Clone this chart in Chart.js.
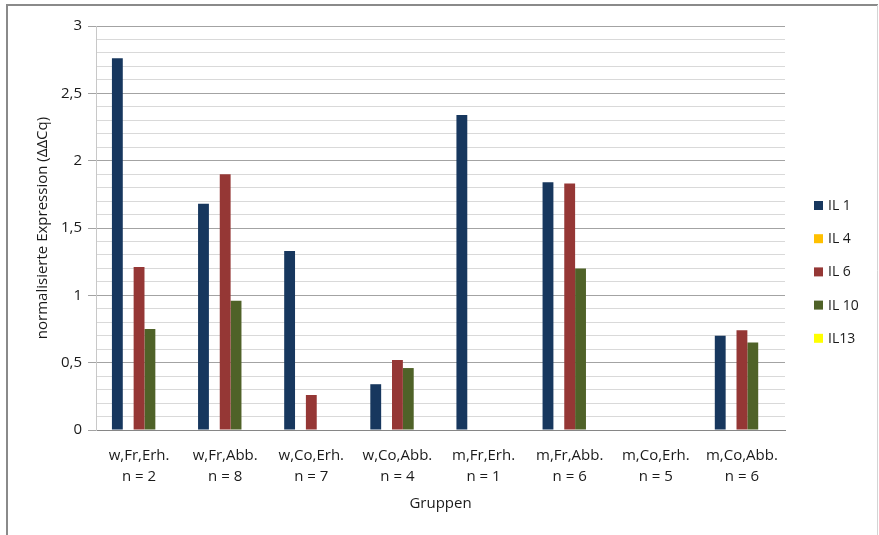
<!DOCTYPE html>
<html>
<head>
<meta charset="utf-8">
<script src="https://cdn.jsdelivr.net/npm/chart.js@4/dist/chart.umd.min.js"></script>
<style>
  html, body { margin: 0; padding: 0; background: #fff; }
  #wrap { position: absolute; left: 0; top: 0; width: 879px; height: 535px; }
</style>
</head>
<body>
<div id="wrap"><canvas id="c" width="879" height="535"></canvas></div>
<script>
// Groups (sex, type, condition) with sample sizes
const groups = [
  ['w,Fr,Erh.', 'n = 2'],
  ['w,Fr,Abb.', 'n = 8'],
  ['w,Co,Erh.', 'n = 7'],
  ['w,Co,Abb.', 'n = 4'],
  ['m,Fr,Erh.', 'n = 1'],
  ['m,Fr,Abb.', 'n = 6'],
  ['m,Co,Erh.', 'n = 5'],
  ['m,Co,Abb.', 'n = 6']
];

// Normalised expression (ΔΔCq) per interleukin
const il1  = [2.76, 1.68, 1.33, 0.34, 2.34, 1.84, 0, 0.70];
const il4  = [0, 0, 0, 0, 0, 0, 0, 0];
const il6  = [1.21, 1.90, 0.26, 0.52, 0, 1.83, 0, 0.74];
const il10 = [0.75, 0.96, 0, 0.46, 0, 1.20, 0, 0.65];
const il13 = [0, 0, 0, 0, 0, 0, 0, 0];

const seriesNames = ['IL 1', 'IL 4', 'IL 6', 'IL 10', 'IL13'];
const seriesColors = ['#17375E', '#FFC000', '#953735', '#4F6228', '#FFFF00'];

const FONT = "'Open Sans', 'Liberation Sans', sans-serif";
const TEXT = '#1a1a1a';

// Outer frame of the figure
const framePlugin = {
  id: 'frame',
  beforeDraw(chart) {
    const ctx = chart.ctx;
    ctx.save();
    ctx.fillStyle = '#ffffff';
    ctx.fillRect(0, 0, chart.width, chart.height);
    ctx.strokeStyle = '#8a8a8a';
    ctx.lineWidth = 2;
    ctx.beginPath();
    ctx.moveTo(7, 540);
    ctx.lineTo(7, 5);
    ctx.lineTo(878, 5);
    ctx.stroke();
    ctx.strokeStyle = '#d4d4d4';
    ctx.lineWidth = 1;
    ctx.beginPath();
    ctx.moveTo(877.5, 5);
    ctx.lineTo(877.5, 540);
    ctx.stroke();
    ctx.restore();
  }
};

// Legend drawn to the right of the plot area, one entry per dataset
const sideLegend = {
  id: 'sideLegend',
  afterDraw(chart) {
    const ctx = chart.ctx;
    const ds = chart.data.datasets;
    const x0 = 814, yStart = 205.5, step = 33.2;
    ctx.save();
    ctx.font = '14px ' + FONT;
    ctx.textBaseline = 'middle';
    ds.forEach((d, i) => {
      const y = yStart + i * step;
      ctx.fillStyle = d.backgroundColor;
      ctx.fillRect(x0, y - 4.5, 9, 9);
      ctx.fillStyle = TEXT;
      ctx.fillText(d.label, x0 + 14, y + 0.5);
    });
    ctx.restore();
  }
};

const datasets = [il1, il4, il6, il10, il13].map((vals, i) => ({
  label: seriesNames[i],
  data: vals,
  backgroundColor: seriesColors[i],
  borderWidth: 0,
  categoryPercentage: 0.63,
  barPercentage: 1.0
}));

new Chart(document.getElementById('c'), {
  type: 'bar',
  data: { labels: groups, datasets },
  plugins: [framePlugin, sideLegend],
  options: {
    responsive: false,
    animation: false,
    layout: { padding: { left: 0, right: 94, top: 26, bottom: 0 } },
    plugins: {
      legend: { display: false },
      tooltip: { enabled: false }
    },
    scales: {
      x: {
        grid: { display: false, drawTicks: false },
        border: { display: true, color: '#868686', width: 1 },
        ticks: {
          color: TEXT,
          font: { family: FONT, size: 15, lineHeight: 1.4 },
          padding: 15,
          maxRotation: 0,
          autoSkip: false
        },
        title: {
          display: true,
          text: 'Gruppen',
          color: TEXT,
          font: { family: FONT, size: 15 },
          padding: { top: 0, bottom: 22 }
        },
        afterFit(scale) { scale.height = 105; }
      },
      y: {
        min: 0,
        max: 3,
        ticks: {
          stepSize: 0.1,
          autoSkip: false,
          color: TEXT,
          font: { family: FONT, size: 15 },
          padding: 6,
          callback(value) {
            const v = Math.round(value * 10);
            if (v % 5 !== 0) return '';
            return (v / 10).toString().replace('.', ',');
          }
        },
        grid: {
          drawTicks: true,
          tickLength: 8,
          color(ctx) {
            const v = Math.round(ctx.tick.value * 10);
            return v % 5 === 0 ? '#a3a3a3' : '#d9d9d9';
          },
          tickColor(ctx) {
            const v = Math.round(ctx.tick.value * 10);
            return v % 5 === 0 ? '#a3a3a3' : 'rgba(0,0,0,0)';
          },
          lineWidth: 1
        },
        border: { display: true, color: '#c8c8c8' },
        title: {
          display: true,
          text: 'normalisierte Expression (ΔΔCq)',
          color: TEXT,
          font: { family: FONT, size: 15 },
          padding: { top: 34, bottom: 0 }
        },
        afterFit(scale) { scale.width = 96; }
      }
    }
  }
});
</script>
</body>
</html>
